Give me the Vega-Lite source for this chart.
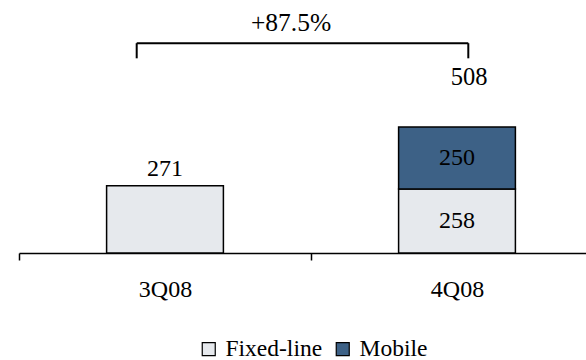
{
  "$schema": "https://vega.github.io/schema/vega-lite/v6.json",
  "width": 567,
  "height": 248,
  "autosize": {"type": "none"},
  "padding": {"left": 19, "top": 5, "right": 0, "bottom": 107},
  "background": "white",
  "config": {"view": {"stroke": null}, "font": "Liberation Serif"},
  "datasets": {
    "bars": [
      {"q": "3Q08", "type": "Fixed-line", "v": 271},
      {"q": "4Q08", "type": "Fixed-line", "v": 258},
      {"q": "4Q08", "type": "Mobile", "v": 250}
    ],
    "totals": [{"q": "4Q08", "total": 508}],
    "growth": [{"from": "3Q08", "to": "4Q08", "label": "+87.5%"}]
  },
  "layer": [
    {
      "data": {"name": "bars"},
      "mark": {"type": "bar", "width": {"band": 0.4}, "stroke": "black", "strokeWidth": 1.5},
      "encoding": {
        "x": {
          "field": "q", "type": "nominal",
          "scale": {"range": [0, 584], "paddingInner": 0, "paddingOuter": 0},
          "axis": {
            "title": null, "labelAngle": 0, "labelFont": "Liberation Serif", "labelFontSize": 24,
            "labelColor": "black", "labelPadding": 17, "tickSize": 7, "tickColor": "black",
            "tickWidth": 1.5, "domainColor": "black", "domainWidth": 1.5, "tickBand": "extent", "grid": false
          }
        },
        "y": {"field": "v", "type": "quantitative", "stack": "zero", "scale": {"domain": [0, 1000]}, "axis": null},
        "order": {"field": "type", "sort": "ascending"},
        "color": {
          "field": "type", "type": "nominal",
          "scale": {"domain": ["Fixed-line", "Mobile"], "range": ["#E6E9ED", "#3D6186"]},
          "legend": {
            "orient": "none", "legendX": 178, "legendY": 332, "direction": "horizontal", "title": null,
            "padding": 0, "symbolType": "square", "symbolSize": 169, "symbolStrokeColor": "black",
            "symbolStrokeWidth": 1.2, "labelFont": "Liberation Serif", "labelFontSize": 23.5,
            "labelColor": "black", "labelOffset": 5, "columnPadding": 8
          }
        }
      }
    },
    {
      "data": {"name": "bars"},
      "transform": [{"filter": "datum.q === '4Q08'"}],
      "mark": {"type": "text", "fontSize": 24, "font": "Liberation Serif", "color": "black", "baseline": "middle"},
      "encoding": {
        "x": {"field": "q", "type": "nominal"},
        "y": {"field": "v", "type": "quantitative", "stack": "zero", "bandPosition": 0.5},
        "order": {"field": "type", "sort": "ascending"},
        "detail": {"field": "type"},
        "text": {"field": "v"}
      }
    },
    {
      "data": {"name": "bars"},
      "transform": [{"filter": "datum.q === '3Q08'"}],
      "mark": {"type": "text", "fontSize": 24, "font": "Liberation Serif", "color": "black", "baseline": "middle", "dy": -17},
      "encoding": {
        "x": {"field": "q", "type": "nominal"},
        "y": {"field": "v", "type": "quantitative"},
        "text": {"field": "v"}
      }
    },
    {
      "data": {"name": "totals"},
      "mark": {"type": "text", "fontSize": 24.5, "font": "Liberation Serif", "color": "black", "baseline": "middle", "dy": -49, "dx": 12},
      "encoding": {
        "x": {"field": "q", "type": "nominal"},
        "y": {"field": "total", "type": "quantitative"},
        "text": {"field": "total"}
      }
    },
    {
      "data": {"name": "growth"},
      "mark": {"type": "rule", "color": "black", "strokeWidth": 2, "xOffset": -28.3, "x2Offset": 11.3},
      "encoding": {
        "x": {"field": "from", "type": "nominal"},
        "x2": {"field": "to"},
        "y": {"datum": 846}
      }
    },
    {
      "data": {"name": "growth"},
      "mark": {"type": "rule", "color": "black", "strokeWidth": 2, "xOffset": -28.3},
      "encoding": {
        "x": {"field": "from", "type": "nominal"},
        "y": {"datum": 846},
        "y2": {"datum": 785}
      }
    },
    {
      "data": {"name": "growth"},
      "mark": {"type": "rule", "color": "black", "strokeWidth": 2, "xOffset": 11.3},
      "encoding": {
        "x": {"field": "to", "type": "nominal"},
        "y": {"datum": 846},
        "y2": {"datum": 785}
      }
    },
    {
      "data": {"name": "growth"},
      "mark": {"type": "text", "fontSize": 25.5, "font": "Liberation Serif", "color": "black", "baseline": "middle", "dx": 126},
      "encoding": {
        "x": {"field": "from", "type": "nominal"},
        "y": {"datum": 928},
        "text": {"field": "label"}
      }
    }
  ]
}
